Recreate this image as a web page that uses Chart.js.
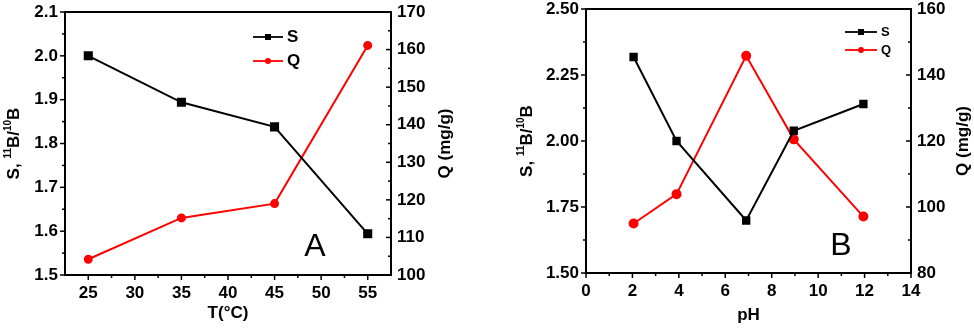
<!DOCTYPE html>
<html>
<head>
<meta charset="utf-8">
<script src="https://cdn.jsdelivr.net/npm/chart.js@4.4.1/dist/chart.umd.min.js"></script>
<style>
  body { margin: 0; background: #fff; }
  .panel { position: absolute; top: 0; width: 487px; height: 329px; }
  #pA { left: 0; }
  #pB { left: 487px; }
</style>
</head>
<body>
<div class="panel" id="pA"><canvas id="chartA" width="487" height="329"></canvas></div>
<div class="panel" id="pB"><canvas id="chartB" width="487" height="329"></canvas></div>
<script>
// panel A: temperature
const tempC = [25, 35, 45, 55];
const sTemp = [2.0, 1.894, 1.838, 1.594];
const qTemp = [104.2, 115.2, 119.0, 161.1];
const tickT = [25, 30, 35, 40, 45, 50, 55];
const tickSA = [1.5, 1.6, 1.7, 1.8, 1.9, 2.0, 2.1];
const tickQA = [100, 110, 120, 130, 140, 150, 160, 170];

// panel B: pH
const pH = [2.05, 3.9, 6.9, 8.95, 11.95];
const sPH = [2.318, 2.0, 1.699, 2.039, 2.14];
const qPH = [95.0, 103.9, 145.8, 120.5, 97.1];
const tickPH = [0, 2, 4, 6, 8, 10, 12, 14];
const tickSB = [1.5, 1.75, 2.0, 2.25, 2.5];
const tickQB = [80, 100, 120, 140, 160];

const FONT = '"Liberation Sans", Arial, sans-serif';
const RED = '#ff0000';

function mids(arr) {
  const out = [];
  for (let i = 0; i < arr.length - 1; i++) out.push((arr[i] + arr[i + 1]) / 2);
  return out;
}
function pts(xs, ys) {
  return xs.map((x, i) => ({ x: x, y: ys[i] }));
}
function fixTicks(vals) {
  return function (s) { s.ticks = vals.map(v => ({ value: v })); };
}
// force a box size and drop the label overhang padding
function fitTo(prop, size) {
  return function (s) {
    s[prop] = size;
    s.paddingTop = 0; s.paddingBottom = 0; s.paddingLeft = 0; s.paddingRight = 0;
  };
}

// frame, tick marks, axis titles, legend, panel letter
const decor = {
  id: 'decor',
  afterDraw(chart, args, o) {
    const ctx = chart.ctx;
    const a = chart.chartArea;
    ctx.save();
    ctx.strokeStyle = '#000';
    ctx.lineWidth = 2;
    ctx.strokeRect(a.left, a.top, a.right - a.left, a.bottom - a.top);

    ctx.lineWidth = 1.5;
    o.marks.forEach(m => {
      const s = chart.scales[m.id];
      const draw = (v, len) => {
        const p = s.getPixelForValue(v);
        ctx.beginPath();
        if (m.side === 'bottom') { ctx.moveTo(p, a.bottom); ctx.lineTo(p, a.bottom + len); }
        else if (m.side === 'left') { ctx.moveTo(a.left, p); ctx.lineTo(a.left - len, p); }
        else { ctx.moveTo(a.right, p); ctx.lineTo(a.right - len, p); }
        ctx.stroke();
      };
      m.major.forEach(v => draw(v, 5));
      m.minor.forEach(v => draw(v, 3));
    });

    ctx.fillStyle = '#000';
    const cy = (a.top + a.bottom) / 2;
    // left title with superscripts, rotated
    ctx.save();
    ctx.translate(a.left - o.leftOff, cy);
    ctx.rotate(-Math.PI / 2);
    const parts = [['S, ', 0], ['11', 1], ['B/', 0], ['10', 1], ['B', 0]];
    const big = 'bold 17px ' + FONT, small = 'bold 10px ' + FONT;
    let w = 0;
    parts.forEach(p => { ctx.font = p[1] ? small : big; w += ctx.measureText(p[0]).width; });
    let x = -w / 2;
    ctx.textBaseline = 'middle';
    parts.forEach(p => {
      ctx.font = p[1] ? small : big;
      ctx.fillText(p[0], x, p[1] ? -6 : 0);
      x += ctx.measureText(p[0]).width;
    });
    ctx.restore();

    // right title
    ctx.save();
    ctx.translate(a.right + o.rightOff, cy);
    ctx.rotate(-Math.PI / 2);
    ctx.font = 'bold 17px ' + FONT;
    ctx.textAlign = 'center';
    ctx.textBaseline = 'middle';
    ctx.fillText('Q (mg/g)', 0, 0);
    ctx.restore();

    // x title
    ctx.font = 'bold 17px ' + FONT;
    ctx.textAlign = 'center';
    ctx.textBaseline = 'middle';
    ctx.fillText(o.xTitle, (a.left + a.right) / 2, a.bottom + o.bottomOff);

    // legend
    const lg = o.legend;
    chart.data.datasets.forEach((ds, i) => {
      const lx = a.left + lg.x, ly = a.top + lg.y + i * lg.gap;
      ctx.strokeStyle = ds.borderColor;
      ctx.fillStyle = ds.borderColor;
      ctx.lineWidth = 1.8;
      ctx.beginPath();
      ctx.moveTo(lx, ly);
      ctx.lineTo(lx + lg.len, ly);
      ctx.stroke();
      const mx = lx + lg.len / 2;
      if (ds.pointStyle === 'rect') {
        ctx.fillRect(mx - 3, ly - 3, 6, 6);
      } else {
        ctx.beginPath();
        ctx.arc(mx, ly, 3, 0, Math.PI * 2);
        ctx.fill();
      }
      ctx.fillStyle = '#000';
      ctx.font = 'bold ' + lg.size + 'px ' + FONT;
      ctx.textAlign = 'left';
      ctx.textBaseline = 'middle';
      ctx.fillText(ds.label, lx + lg.len + 4, ly);
    });

    // panel letter
    ctx.font = '32px ' + FONT;
    ctx.textAlign = 'center';
    ctx.textBaseline = 'alphabetic';
    ctx.fillText(o.letter, a.left + o.letterX, a.bottom - o.letterY);
    ctx.restore();
  }
};

function makeChart(id, cfg) {
  const tickFont = { family: FONT, size: 17, weight: 'bold' };
  return new Chart(document.getElementById(id), {
    type: 'line',
    data: {
      datasets: [
        {
          label: 'S', data: pts(cfg.x, cfg.s), yAxisID: 'y',
          borderColor: '#000', backgroundColor: '#000', borderWidth: 2,
          pointStyle: 'rect', pointRadius: cfg.sRad, pointHoverRadius: cfg.sRad, tension: 0
        },
        {
          label: 'Q', data: pts(cfg.x, cfg.q), yAxisID: 'y1',
          borderColor: RED, backgroundColor: RED, borderWidth: 2,
          pointStyle: 'circle', pointRadius: cfg.qRad, pointHoverRadius: cfg.qRad, tension: 0
        }
      ]
    },
    options: {
      responsive: false,
      animation: false,
      layout: { padding: { top: cfg.top, left: 0, right: 0, bottom: 0 } },
      plugins: {
        legend: { display: false },
        tooltip: { enabled: false },
        decor: cfg.decor
      },
      scales: {
        x: {
          type: 'linear', position: 'bottom', min: cfg.xMin, max: cfg.xMax,
          afterBuildTicks: fixTicks(cfg.xTicks),
          afterFit: fitTo('height', cfg.xH),
          grid: { display: false, drawTicks: false },
          border: { display: false },
          ticks: { color: '#000', font: tickFont, padding: 8, maxRotation: 0, callback: v => String(v) }
        },
        y: {
          position: 'left', min: cfg.sTicks[0], max: cfg.sTicks[cfg.sTicks.length - 1],
          afterBuildTicks: fixTicks(cfg.sTicks),
          afterFit: fitTo('width', cfg.leftW),
          grid: { display: false, drawTicks: false },
          border: { display: false },
          ticks: { color: '#000', font: tickFont, padding: 7, callback: v => v.toFixed(cfg.sDec) }
        },
        y1: {
          position: 'right', min: cfg.qTicks[0], max: cfg.qTicks[cfg.qTicks.length - 1],
          afterBuildTicks: fixTicks(cfg.qTicks),
          afterFit: fitTo('width', cfg.rightW),
          grid: { display: false, drawTicks: false },
          border: { display: false },
          ticks: { color: '#000', font: tickFont, padding: 6, callback: v => String(v) }
        }
      }
    },
    plugins: [decor]
  });
}

makeChart('chartA', {
  x: tempC, s: sTemp, q: qTemp,
  xMin: 22.5, xMax: 57.5, xTicks: tickT, sTicks: tickSA, qTicks: tickQA, sDec: 1,
  top: 12, xH: 54, leftW: 65, rightW: 96, sRad: 5, qRad: 3.5,
  decor: {
    marks: [
      { id: 'x', side: 'bottom', major: tickT, minor: mids(tickT) },
      { id: 'y', side: 'left', major: tickSA, minor: mids(tickSA) },
      { id: 'y1', side: 'right', major: tickQA, minor: mids(tickQA) }
    ],
    leftOff: 51, rightOff: 54, bottomOff: 38, xTitle: 'T(°C)',
    legend: { x: 188, y: 25, gap: 24, len: 30, size: 17 },
    letter: 'A', letterX: 250, letterY: 19
  }
});

makeChart('chartB', {
  x: pH, s: sPH, q: qPH,
  xMin: 0, xMax: 14, xTicks: tickPH, sTicks: tickSB, qTicks: tickQB, sDec: 2,
  top: 9, xH: 56, leftW: 99, rightW: 63, sRad: 4.5, qRad: 4,
  decor: {
    marks: [
      { id: 'x', side: 'bottom', major: tickPH, minor: mids(tickPH) },
      { id: 'y', side: 'left', major: tickSB, minor: mids(tickSB) },
      { id: 'y1', side: 'right', major: tickQB, minor: mids(tickQB) }
    ],
    leftOff: 59, rightOff: 52, bottomOff: 42, xTitle: 'pH',
    legend: { x: 259, y: 23, gap: 18, len: 32, size: 13 },
    letter: 'B', letterX: 255, letterY: 18
  }
});
</script>
</body>
</html>
